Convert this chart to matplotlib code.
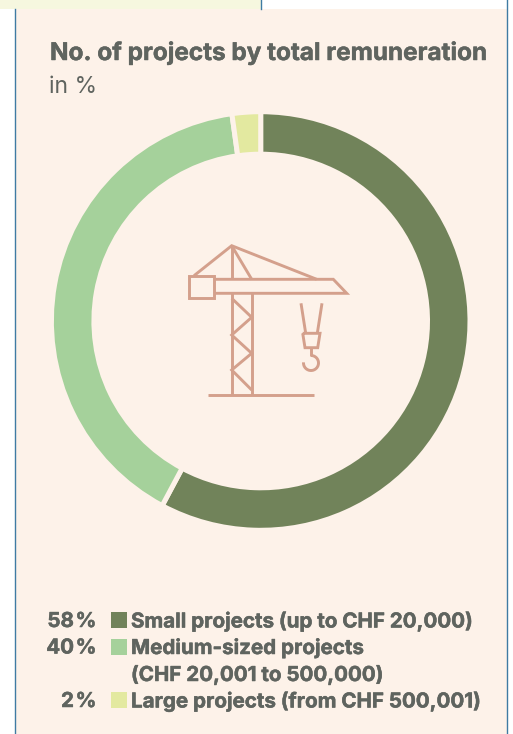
import matplotlib
matplotlib.use("Agg")
import matplotlib.pyplot as plt
from matplotlib.patches import Rectangle, Arc
import matplotlib.patheffects as pe

W, H = 513, 734
title = "No. of projects by total remuneration"
subtitle = "in %"
shares = [57.8, 40.0, 2.2]
pct_labels = ["58\u200a%", "40\u200a%", "2\u200a%"]
names = ["Small projects (up to CHF 20,000)",
         "Medium-sized projects\n(CHF 20,001 to 500,000)",
         "Large projects (from CHF 500,001)"]
colors = ["#71835a", "#a5d19b", "#e3e9a0"]
PANEL = "#fdf2e9"
INK = "#5f645f"
CRANE = "#d4a08c"
BLUE = "#3f7ba3"
FONT = ["Inter", "DejaVu Sans"]
bolder = [pe.withStroke(linewidth=0.35, foreground=INK)]

fig = plt.figure(figsize=(W/100, H/100), dpi=100, facecolor="white")
bg = fig.add_axes([0, 0, 1, 1])
bg.set_xlim(0, W); bg.set_ylim(H, 0); bg.axis("off")

bg.add_patch(Rectangle((0, 0), 261, 9, fc="#f6f7df", ec="none"))
bg.add_patch(Rectangle((15, 9), 492, 725, fc=PANEL, ec="none"))
bg.plot([261.3, 261.3], [0, 9], color=BLUE, lw=1.0)
bg.plot([15.3, 15.3], [9, H], color=BLUE, lw=1.0)
bg.plot([506.7, 506.7], [0, H], color=BLUE, lw=1.0)

bg.text(50, 60, title, fontsize=17.5, fontweight="bold", color=INK, family=FONT,
        va="baseline", path_effects=bolder)
bg.text(49, 93, subtitle, fontsize=16.5, color=INK, family=FONT, va="baseline")

# donut
cx, cy, R = 260.7, 321, 209.3
pie = fig.add_axes([(cx-R)/W, 1-(cy+R)/H, 2*R/W, 2*R/H])
pie.pie(shares, colors=colors, startangle=90, counterclock=False, radius=1,
        wedgeprops=dict(width=42.5/R, edgecolor=PANEL, linewidth=3.6))
pie.set_xlim(-1, 1); pie.set_ylim(-1, 1)
pie.patch.set_alpha(0)

# crane icon
ov = fig.add_axes([0, 0, 1, 1])
ov.set_xlim(0, W); ov.set_ylim(H, 0); ov.axis("off")
ov.patch.set_alpha(0)
lw = 2.1
def ln(xs, ys):
    ov.plot(xs, ys, color=CRANE, lw=lw, solid_capstyle="butt", solid_joinstyle="miter")
ln([208.3, 314], [395, 395])
ln([231.7, 231.7], [245.7, 279.3])
ln([231.7, 231.7], [293.3, 395])
ln([251.7, 251.7], [293.3, 395])
ov.add_patch(Rectangle((189, 275.7), 25.3, 22, fc="none", ec=CRANE, lw=lw))
ln([214.3, 333.3, 346.7, 214.3], [279.3, 279.3, 293.3, 293.3])
ln([194, 231.7, 316.7], [275.7, 245.7, 279.3])
ln([231.7, 251.7], [245.7, 279.3])
ln([231.7, 251.7, 231.7, 251.7, 231.7, 251.7], [298.3, 317.3, 335, 353.3, 370, 390])
ln([301, 305.7], [303.3, 333.3])
ln([322, 317.3], [303.3, 333.3])
ln([302.7, 320, 317.7, 305, 302.7], [333.3, 333.3, 347.7, 347.7, 333.3])
ln([311, 311], [347.7, 355.5])
ov.add_patch(Arc((311, 363), 15, 15, theta1=-90, theta2=185, ec=CRANE, lw=lw))

# legend
rows_y = [620, 646.5, 700]
for y, p, n, c in zip(rows_y, pct_labels, names, colors):
    bg.text(96.5, y, p, ha="right", va="center_baseline", fontsize=14.8, fontweight="bold",
            color=INK, family=FONT, path_effects=bolder)
    ov.add_patch(Rectangle((111, y-8), 16, 16, fc=c, ec="none"))
    for i, part in enumerate(n.split("\n")):
        bg.text(131, y + i*27, part, ha="left", va="center_baseline", fontsize=14.8,
                fontweight="bold", color=INK, family=FONT, path_effects=bolder)

fig.savefig("out.png", dpi=100)
